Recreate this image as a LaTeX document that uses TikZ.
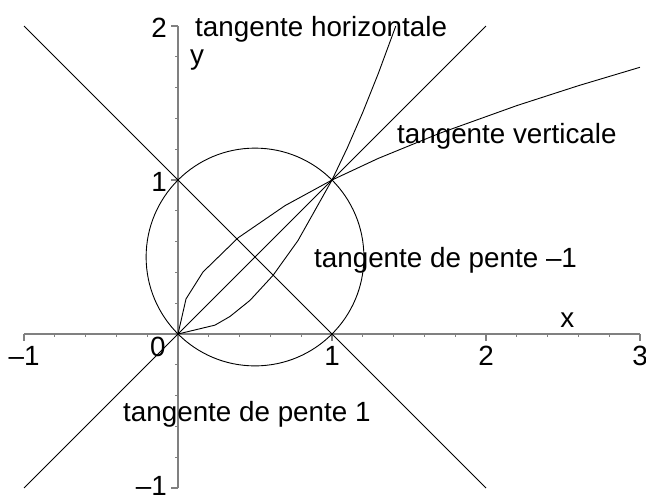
\documentclass[tikz,border=0pt]{standalone}
\usepackage{fontspec}
\setmainfont{Liberation Sans}
\begin{document}
\begin{tikzpicture}[x=154pt,y=154pt,
  axisline/.style={draw=black!50,line width=1.5pt},
  curve/.style={draw=black,line width=0.9pt,line join=round},
  lbl/.style={inner sep=0pt,font=\fontsize{27.8}{32}\selectfont},
  minortick/.style={draw=black!50,line width=1.2pt},
]
\useasboundingbox (-1.156,-1.052) rectangle (3.039,2.169);
% axes
\draw[axisline] (-1,0) -- (3,0);
\draw[axisline] (0,-1) -- (0,2);
\foreach \t in {-0.8,-0.6,-0.4,-0.2,0.2,0.4,0.6,0.8,1.2,1.4,1.6,1.8,2.2,2.4,2.6,2.8}
  \draw[minortick] (\t,0) -- (\t,-0.022);
\foreach \t in {-1,0,1,2,3}
  \draw[minortick] (\t,0) -- (\t,-0.045);
\foreach \t in {-0.8,-0.6,-0.4,-0.2,0.2,0.4,0.6,0.8,1.2,1.4,1.6,1.8}
  \draw[minortick] (0,\t) -- (-0.022,\t);
\foreach \t in {-1,0,1,2}
  \draw[minortick] (0,\t) -- (-0.045,\t);
% tick labels
\node[lbl,anchor=base] (xm1) at (-1,-0.203) {–1};
\node[lbl,anchor=base] (x1) at (1,-0.203) {1};
\node[lbl,anchor=base] (x2) at (2,-0.203) {2};
\node[lbl,anchor=base] (x3) at (3,-0.203) {3};
\node[lbl,anchor=base west] (o) at (-0.182,-0.149) {0};
\node[lbl,anchor=east] (y2) at (-0.071,1.99) {2};
\node[lbl,anchor=east] (y1) at (-0.071,0.985) {1};
\node[lbl,anchor=east] (ym1) at (-0.071,-0.985) {–1};
\node[lbl,anchor=base west] (xl) at (2.481,0.045) {x};
\node[lbl,anchor=base west] (yl) at (0.078,1.747) {y};
% curves
\draw[curve] (0.5,0.5) circle (0.7071);
\draw[curve] (-1,2) -- (2,-1);
\draw[curve] (-1,-1) -- (2,2);
\draw[curve] plot coordinates {(0,0) (0.24,0.0576) (0.338,0.1142) (0.468,0.219) (0.617,0.3807) (0.779,0.6068) (1,1) (1.1,1.21) (1.2,1.44) (1.3,1.69) (1.4142,2)};
\draw[curve] plot coordinates {(0,0) (0.052,0.228) (0.162,0.4025) (0.39,0.6245) (0.695,0.8337) (1,1) (1.3,1.1402) (1.7,1.3038) (2.2,1.4832) (2.6,1.6125) (3,1.7321)};
% labels
\node[lbl,anchor=base west] (th) at (0.110,1.929) {tangente horizontale};
\node[lbl,anchor=base west] (tv) at (1.422,1.234) {tangente verticale};
\node[lbl,anchor=base west] (tm) at (0.883,0.435) {tangente de pente –1};
\node[lbl,anchor=base west] (tp) at (-0.357,-0.571) {tangente de pente 1};
\end{tikzpicture}
\end{document}
